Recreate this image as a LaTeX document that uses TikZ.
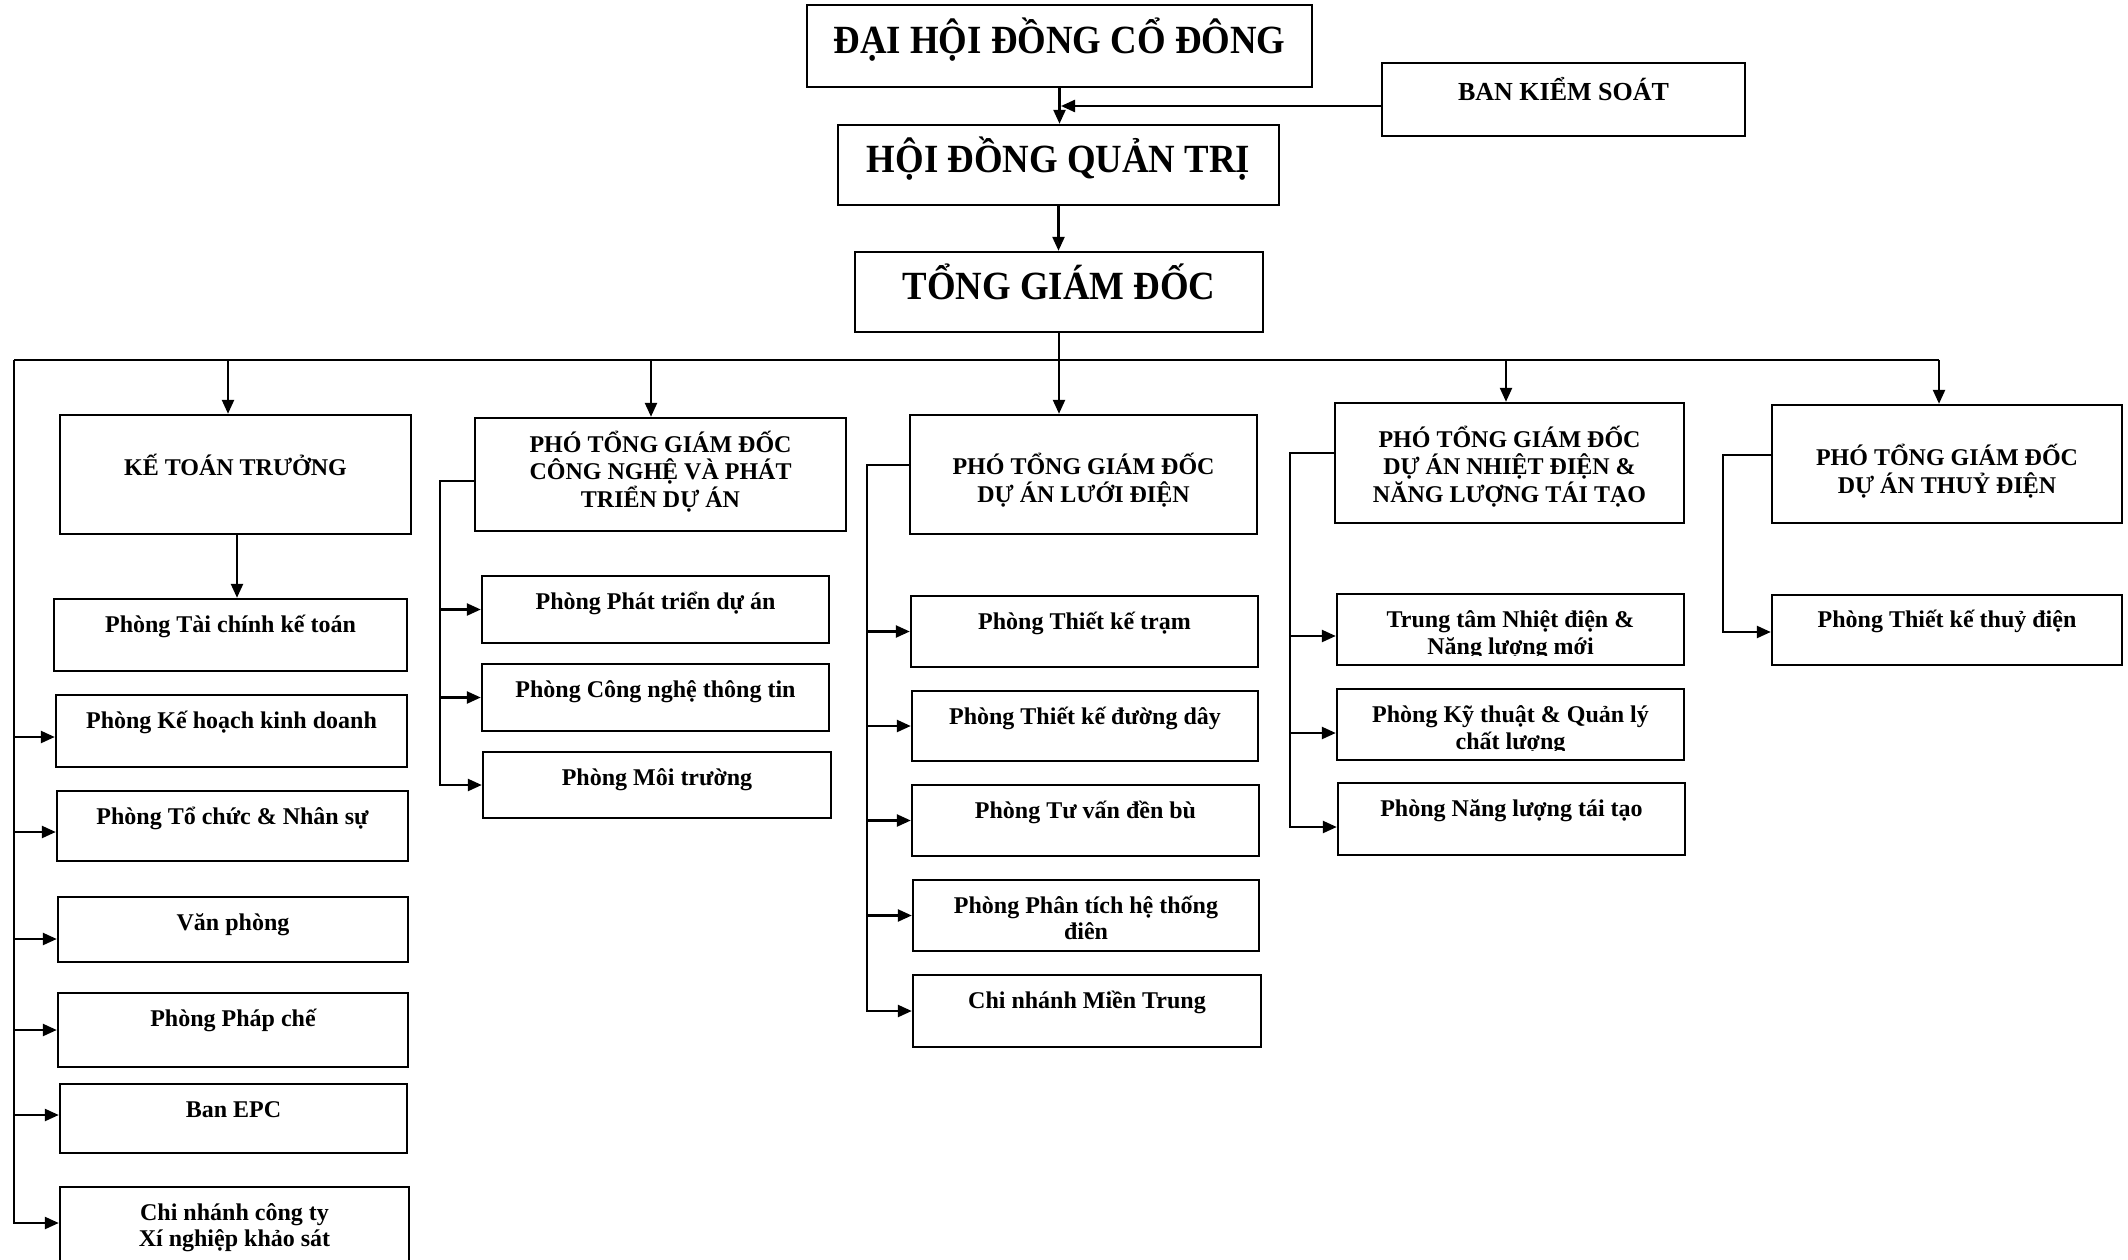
\documentclass[tikz,border=0pt]{standalone}
\usepackage{fontspec}
\setmainfont{Liberation Serif}
\newfontfamily\titlefam{Liberation Serif}[FakeStretch=0.92]
\usetikzlibrary{arrows.meta}
\newcommand\mkbox[5]{\node[bx,minimum width={#4-#2},minimum height={#5-#3}] (#1) at ({(#2+#4)/2},{(#3+#5)/2}) {};}
\newcommand\tline[5]{\node[#1] (#2) at (#3.center |- 0,#4) {#5};}
\begin{document}
\begin{tikzpicture}[x=1pt,y=-1pt,
  bx/.style={draw, line width=2.4pt, inner sep=0pt},
  ln/.style={line width=2.4pt},
  arr/.style={line width=2.4pt,-{Triangle[length=14pt,width=12pt]}},
  ttl/.style={inner sep=0pt, anchor=base, font=\titlefam\bfseries\fontsize{40}{44}\selectfont},
  bkt/.style={inner sep=0pt, anchor=base, font=\bfseries\fontsize{26}{30}\selectfont},
  tx/.style={inner sep=0pt, anchor=base, font=\bfseries\fontsize{24}{28}\selectfont}]
\fill[white] (0,0) rectangle (2128,1260);
\useasboundingbox (0,0) rectangle (2128,1260);

% ---- boxes
\mkbox{dh}{807}{5}{1312}{87}
\mkbox{bks}{1382}{63}{1745}{136}
\mkbox{hd}{838}{125}{1279}{205}
\mkbox{tgd}{855}{252}{1263}{332}

\mkbox{kt}{60}{415}{411}{534}
\mkbox{p1}{54}{599}{407}{671}
\mkbox{p2}{56}{695}{407}{767}
\mkbox{p3}{57}{791}{408}{861}
\mkbox{p4}{58}{897}{408}{962}
\mkbox{p5}{58}{993}{408}{1067}
\mkbox{p6}{60}{1084}{407}{1153}
\mkbox{p7}{60}{1187}{409}{1290}

\mkbox{cn}{475}{418}{846}{531}
\mkbox{q1}{482}{576}{829}{643}
\mkbox{q2}{482}{664}{829}{731}
\mkbox{q3}{483}{752}{831}{818}

\mkbox{ld}{910}{415}{1257}{534}
\mkbox{r1}{911}{596}{1258}{667}
\mkbox{r2}{912}{691}{1258}{761}
\mkbox{r3}{912}{785}{1259}{856}
\mkbox{r4}{913}{880}{1259}{951}
\mkbox{r5}{913}{975}{1261}{1047}

\mkbox{nd}{1335}{403}{1684}{523}
\mkbox{s1}{1337}{594}{1684}{665}
\mkbox{s2}{1337}{689}{1684}{760}
\mkbox{s3}{1338}{783}{1685}{855}

\mkbox{td}{1772}{405}{2122}{523}
\mkbox{t1}{1772}{595}{2122}{665}

% ---- texts
\tline{ttl}{dht}{dh}{54}{ĐẠI HỘI ĐỒNG CỔ ĐÔNG}
\tline{bkt}{bkst}{bks}{101}{BAN KIỂM SOÁT}
\tline{ttl}{hdt}{hd}{173}{HỘI ĐỒNG QUẢN TRỊ}
\tline{ttl}{tgdt}{tgd}{299}{TỔNG GIÁM ĐỐC}

\tline{tx}{ktt}{kt}{475}{KẾ TOÁN TRƯỞNG}
\tline{tx}{p1t}{p1}{632}{Phòng Tài chính kế toán}
\tline{tx}{p2t}{p2}{728}{Phòng Kế hoạch kinh doanh}
\tline{tx}{p3t}{p3}{824}{Phòng Tổ chức \& Nhân sự}
\tline{tx}{p4t}{p4}{930}{Văn phòng}
\tline{tx}{p5t}{p5}{1026}{Phòng Pháp chế}
\tline{tx}{p6t}{p6}{1117}{Ban EPC}
\tline{tx}{p7a}{p7}{1220}{Chi nhánh công ty}
\tline{tx}{p7b}{p7}{1246}{Xí nghiệp khảo sát}

\tline{tx}{cna}{cn}{452}{PHÓ TỔNG GIÁM ĐỐC}
\tline{tx}{cnb}{cn}{479.5}{CÔNG NGHỆ VÀ PHÁT}
\tline{tx}{cnc}{cn}{507}{TRIỂN DỰ ÁN}
\tline{tx}{q1t}{q1}{609}{Phòng Phát triển dự án}
\tline{tx}{q2t}{q2}{697}{Phòng Công nghệ thông tin}
\tline{tx}{q3t}{q3}{785}{Phòng Môi trường}

\tline{tx}{lda}{ld}{474}{PHÓ TỔNG GIÁM ĐỐC}
\tline{tx}{ldb}{ld}{502}{DỰ ÁN LƯỚI ĐIỆN}
\tline{tx}{r1t}{r1}{629}{Phòng Thiết kế trạm}
\tline{tx}{r2t}{r2}{724}{Phòng Thiết kế đường dây}
\tline{tx}{r3t}{r3}{818}{Phòng Tư vấn đền bù}
\tline{tx}{r4a}{r4}{913}{Phòng Phân tích hệ thống}
\tline{tx}{r4b}{r4}{939}{điên}
\tline{tx}{r5t}{r5}{1008}{Chi nhánh Miền Trung}

\tline{tx}{nda}{nd}{447}{PHÓ TỔNG GIÁM ĐỐC}
\tline{tx}{ndb}{nd}{474.5}{DỰ ÁN NHIỆT ĐIỆN \&}
\tline{tx}{ndc}{nd}{502}{NĂNG LƯỢNG TÁI TẠO}
\tline{tx}{s1a}{s1}{627}{Trung tâm Nhiệt điện \&}
\begin{scope}
  \clip (s1.north west) rectangle (s1.east |- 0,655);
  \tline{tx}{s1b}{s1}{654}{Năng lượng mới}
\end{scope}
\tline{tx}{s2a}{s2}{722}{Phòng Kỹ thuật \& Quản lý}
\begin{scope}
  \clip (s2.north west) rectangle (s2.east |- 0,750);
  \tline{tx}{s2b}{s2}{749}{chất lượng}
\end{scope}
\tline{tx}{s3t}{s3}{816}{Phòng Năng lượng tái tạo}

\tline{tx}{tda}{td}{465}{PHÓ TỔNG GIÁM ĐỐC}
\tline{tx}{tdb}{td}{493}{DỰ ÁN THUỶ ĐIỆN}
\tline{tx}{t1t}{t1}{627}{Phòng Thiết kế thuỷ điện}

% ---- top connectors
\draw[arr] (dh.south) -- (dh.south |- hd.north);
\coordinate (bk) at (1061,106);
\draw[arr] (bk -| bks.west) -- (bk);
\draw[arr] (hd.south) -- (hd.south |- tgd.north);
\draw[arr] (tgd.south) -- (tgd.south |- ld.north);

% ---- bus
\coordinate (busL) at (14,360);
\coordinate (busR) at (1939,360);
\draw[ln] (busL) -- (busR);
\coordinate (b1) at (228,360);
\coordinate (b2) at (651,360);
\coordinate (b4) at (1506,360);
\draw[arr] (b1) -- (b1 |- kt.north);
\draw[arr] (b2) -- (b2 |- cn.north);
\draw[arr] (b4) -- (b4 |- nd.north);
\draw[arr] (busR) -- (busR |- td.north);

% ---- column 1
\draw[arr] ([xshift=1.5pt]kt.south) -- ([xshift=1.5pt]kt.south |- p1.north);
\coordinate (a2) at (14,737);
\coordinate (a3) at (14,832);
\coordinate (a4) at (14,939);
\coordinate (a5) at (14,1030);
\coordinate (a6) at (14,1115);
\coordinate (a7) at (14,1223);
\draw[arr] (busL) -- (a7) -- (a7 -| p7.west);
\draw[arr] (a2) -- (a2 -| p2.west);
\draw[arr] (a3) -- (a3 -| p3.west);
\draw[arr] (a4) -- (a4 -| p4.west);
\draw[arr] (a5) -- (a5 -| p5.west);
\draw[arr] (a6) -- (a6 -| p6.west);

% ---- column 2
\coordinate (c0) at (440,481);
\draw[arr] (c0 -| cn.west) -- (c0) |- (q3.west);
\draw[arr] (c0 |- q1.west) -- (q1.west);
\draw[arr] (c0 |- q2.west) -- (q2.west);

% ---- column 3
\coordinate (d0) at (867,465);
\draw[arr] (d0 -| ld.west) -- (d0) |- (r5.west);
\draw[arr] (d0 |- r1.west) -- (r1.west);
\draw[arr] (d0 |- r2.west) -- (r2.west);
\draw[arr] (d0 |- r3.west) -- (r3.west);
\draw[arr] (d0 |- r4.west) -- (r4.west);

% ---- column 4
\coordinate (e0) at (1290,453);
\coordinate (e1) at (1290,636);
\coordinate (e2) at (1290,733);
\coordinate (e3) at (1290,827);
\draw[arr] (e0 -| nd.west) -- (e0) -- (e3) -- (e3 -| s3.west);
\draw[arr] (e1) -- (e1 -| s1.west);
\draw[arr] (e2) -- (e2 -| s2.west);

% ---- column 5
\coordinate (f0) at (1723,455);
\coordinate (f1) at (1723,632);
\draw[arr] (f0 -| td.west) -- (f0) -- (f1) -- (f1 -| t1.west);
\end{tikzpicture}
\end{document}
